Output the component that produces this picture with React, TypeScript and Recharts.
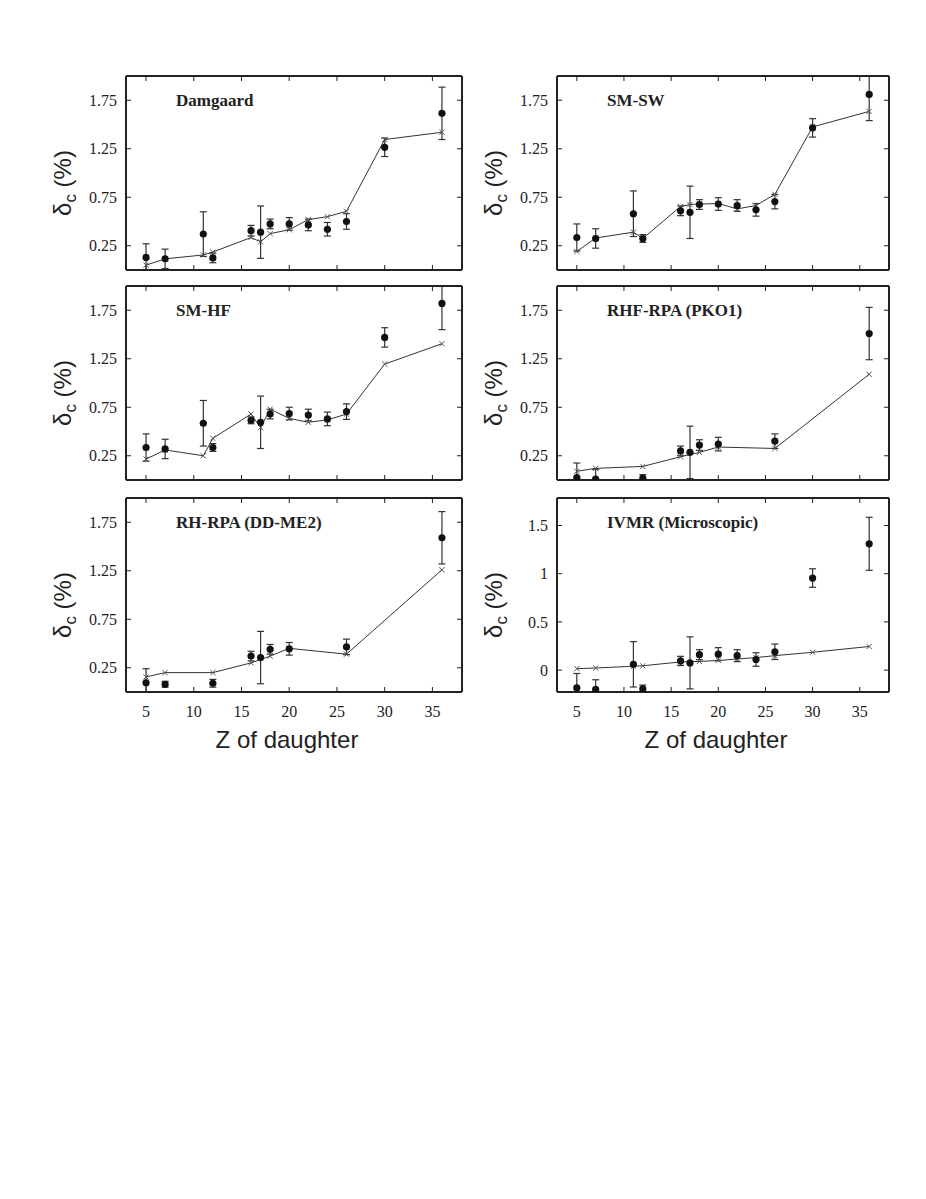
import React from "react";
import { ComposedChart, XAxis, YAxis, Line, Scatter, ErrorBar } from "recharts";

// Z of daughter nucleus
const zAll = [5, 7, 11, 12, 16, 17, 18, 20, 22, 24, 26, 30, 36];
const zSub = [5, 7, 12, 16, 17, 18, 20, 26, 36];
const zSubTheory = [5, 7, 12, 16, 18, 20, 26, 36];
const zIvmrTheory = [5, 7, 11, 12, 16, 18, 20, 22, 24, 26, 30, 36];

const xTicks = [5, 10, 15, 20, 25, 30, 35];
const yTicks = [0.25, 0.75, 1.25, 1.75];
const yTicksIvmr = [0, 0.5, 1, 1.5];

// Damgaard
const damgaardExp = [0.13, 0.115, 0.37, 0.125, 0.405, 0.39, 0.475, 0.475, 0.465, 0.42, 0.5, 1.265, 1.615];
const damgaardErr = [0.14, 0.1, 0.23, 0.05, 0.055, 0.27, 0.05, 0.065, 0.06, 0.07, 0.08, 0.095, 0.27];
const damgaardTheory = [0.05, 0.115, 0.155, 0.185, 0.335, 0.29, 0.375, 0.415, 0.52, 0.55, 0.605, 1.345, 1.42];

// SM-SW
const smswExp = [0.335, 0.325, 0.58, 0.325, 0.61, 0.595, 0.675, 0.68, 0.665, 0.62, 0.705, 1.465, 1.81];
const smswErr = [0.14, 0.1, 0.235, 0.04, 0.05, 0.27, 0.05, 0.065, 0.06, 0.065, 0.075, 0.095, 0.27];
const smswTheory = [0.19, 0.33, 0.39, 0.325, 0.655, 0.675, 0.68, 0.685, 0.63, 0.665, 0.78, 1.475, 1.635];

// SM-HF
const smhfExp = [0.335, 0.32, 0.585, 0.335, 0.615, 0.595, 0.68, 0.685, 0.67, 0.63, 0.705, 1.47, 1.82];
const smhfErr = [0.14, 0.1, 0.235, 0.04, 0.035, 0.27, 0.05, 0.065, 0.06, 0.07, 0.08, 0.1, 0.27];
const smhfTheory = [0.215, 0.31, 0.25, 0.43, 0.68, 0.54, 0.73, 0.635, 0.595, 0.62, 0.68, 1.195, 1.405];

// RHF-RPA (PKO1)
const pko1Exp = [0.025, 0.01, 0.02, 0.3, 0.285, 0.36, 0.37, 0.4, 1.51];
const pko1Err = [0.15, 0.1, 0.035, 0.05, 0.27, 0.055, 0.07, 0.075, 0.27];
const pko1Theory = [0.09, 0.12, 0.14, 0.24, 0.285, 0.34, 0.325, 1.09];

// RH-RPA (DD-ME2)
const ddme2Exp = [0.095, 0.08, 0.09, 0.37, 0.355, 0.44, 0.445, 0.465, 1.59];
const ddme2Err = [0.145, 0.03, 0.04, 0.05, 0.27, 0.05, 0.065, 0.08, 0.27];
const ddme2Theory = [0.155, 0.2, 0.2, 0.3, 0.37, 0.45, 0.39, 1.26];

// IVMR (Microscopic)
const ivmrExp = [-0.185, -0.2, 0.06, -0.195, 0.095, 0.075, 0.16, 0.165, 0.15, 0.11, 0.19, 0.955, 1.31];
const ivmrErr = [0.15, 0.1, 0.235, 0.04, 0.048, 0.27, 0.052, 0.068, 0.062, 0.07, 0.08, 0.096, 0.275];
const ivmrTheory = [0.015, 0.022, 0.04, 0.045, 0.085, 0.09, 0.1, 0.115, 0.13, 0.15, 0.185, 0.245];

const toExp = (z: number[], v: number[], e: number[]) => z.map((zz, i) => ({ z: zz, v: v[i], err: e[i] }));
const toLine = (z: number[], v: number[]) => z.map((zz, i) => ({ z: zz, v: v[i] }));

const BOX_H = 194;
const COL_LEFT = [126, 557];
const COL_RIGHT = [462, 889];
const CHART_LEFT = [40, 470];
const ROW_TOP = [76, 286, 498];
const X_DOMAIN: [number, number] = [2.9, 38.1];

const frame = { stroke: "#222", strokeWidth: 2 };
const tickLn = { stroke: "#222", strokeWidth: 1 };
const tickTxt = { fill: "#222", fontSize: 16, fontFamily: "Liberation Serif" };
const blank = () => "";

function Cross(props: any) {
  const { cx, cy, index } = props;
  if (cx == null || cy == null) return <g key={`c${index}`} />;
  const s = 2.6;
  return (
    <path
      key={`c${index}`}
      d={`M${cx - s},${cy - s}L${cx + s},${cy + s}M${cx - s},${cy + s}L${cx + s},${cy - s}`}
      stroke="#555"
      strokeWidth={1}
      fill="none"
    />
  );
}

function Dot(props: any) {
  const { cx, cy } = props;
  return <circle cx={cx} cy={cy} r={3.6} fill="#111" />;
}

interface PanelProps {
  title: string;
  col: number;
  row: number;
  exp: { z: number; v: number; err: number }[];
  theory: { z: number; v: number }[];
  domain: [number, number];
  ticks: number[];
  fmt: (v: number) => string;
}

function Panel({ title, col, row, exp, theory, domain, ticks, fmt }: PanelProps) {
  const chartLeft = CHART_LEFT[col];
  const chartW = 440;
  const boxL = COL_LEFT[col];
  const boxR = COL_RIGHT[col];
  const top = ROW_TOP[row];
  const showX = row === 2;
  const bottomH = showX ? 40 : 1;
  const chartH = 10 + BOX_H + bottomH + 2;
  const clipId = `plotclip-${col}-${row}`;

  return (
    <>
      <svg width={1} height={1} style={{ position: "absolute", left: 0, top: 0 }}>
        <defs>
          <clipPath id={clipId} clipPathUnits="userSpaceOnUse">
            <rect x={boxL - chartLeft} y={10} width={boxR - boxL} height={BOX_H} />
          </clipPath>
        </defs>
      </svg>
      <style>{`.${clipId}-wrap .recharts-errorBar, .${clipId}-wrap .recharts-scatter-symbol { clip-path: url(#${clipId}); }`}</style>
      <div className={`${clipId}-wrap`} style={{ position: "absolute", left: chartLeft, top: top - 10 }}>
        <ComposedChart
          width={chartW}
          height={chartH}
          margin={{ top: 9, right: chartLeft + chartW - boxR - 1, bottom: 2, left: 0 }}
        >
          <XAxis
            xAxisId="b"
            dataKey="z"
            type="number"
            domain={X_DOMAIN}
            allowDataOverflow
            ticks={xTicks}
            interval={0}
            height={bottomH}
            axisLine={frame}
            tickLine={tickLn}
            tick={tickTxt}
            tickSize={-5}
            tickMargin={19}
            tickFormatter={showX ? undefined : blank}
          />
          <XAxis
            xAxisId="t"
            orientation="top"
            dataKey="z"
            type="number"
            domain={X_DOMAIN}
            allowDataOverflow
            ticks={xTicks}
            interval={0}
            height={1}
            axisLine={frame}
            tickLine={tickLn}
            tick={tickTxt}
            tickSize={-5}
            tickFormatter={blank}
          />
          <YAxis
            yAxisId="l"
            dataKey="v"
            type="number"
            domain={domain}
            allowDataOverflow
            ticks={ticks}
            interval={0}
            width={boxL - chartLeft}
            axisLine={frame}
            tickLine={tickLn}
            tick={tickTxt}
            tickSize={-5}
            tickMargin={14}
            tickFormatter={fmt}
          />
          <YAxis
            yAxisId="r"
            orientation="right"
            type="number"
            domain={domain}
            allowDataOverflow
            ticks={ticks}
            interval={0}
            width={1}
            axisLine={frame}
            tickLine={tickLn}
            tick={tickTxt}
            tickSize={-5}
            tickFormatter={blank}
          />
          <Line
            xAxisId="b"
            yAxisId="l"
            data={theory}
            dataKey="v"
            type="linear"
            stroke="#333"
            strokeWidth={1}
            dot={Cross}
            activeDot={false}
            isAnimationActive={false}
          />
          <Scatter xAxisId="b" yAxisId="l" data={exp} dataKey="v" shape={Dot} isAnimationActive={false}>
            <ErrorBar dataKey="err" direction="y" width={3.5} stroke="#333" strokeWidth={1.2} isAnimationActive={false} />
          </Scatter>
        </ComposedChart>
      </div>
      <div
        style={{
          position: "absolute",
          left: boxL + 50,
          top: top + 16,
          fontFamily: "Liberation Serif",
          fontWeight: "bold",
          fontSize: 17,
          lineHeight: 1,
          color: "#222",
          whiteSpace: "nowrap",
        }}
      >
        {title}
      </div>
      <div
        style={{
          position: "absolute",
          left: boxL - 61,
          top: top + BOX_H / 2 + 10,
          transform: "translate(-50%, -50%) rotate(-90deg)",
          fontFamily: "Liberation Sans",
          fontSize: 24,
          lineHeight: 1,
          color: "#222",
          whiteSpace: "nowrap",
        }}
      >
        δ<sub style={{ fontSize: 17 }}>c</sub> (%)
      </div>
      {showX && (
        <div
          style={{
            position: "absolute",
            left: (boxL + boxR) / 2 - 7,
            top: 740,
            transform: "translate(-50%, -50%)",
            fontFamily: "Liberation Sans",
            fontSize: 24,
            lineHeight: 1,
            color: "#222",
            whiteSpace: "nowrap",
          }}
        >
          Z of daughter
        </div>
      )}
    </>
  );
}

const fmt2 = (v: number) => v.toFixed(2);
const fmtPlain = (v: number) => String(v);

export default function App() {
  return (
    <div style={{ position: "absolute", left: 0, top: 0, width: 926, height: 1199, background: "#fff" }}>
      <Panel title="Damgaard" col={0} row={0} exp={toExp(zAll, damgaardExp, damgaardErr)} theory={toLine(zAll, damgaardTheory)} domain={[0, 2]} ticks={yTicks} fmt={fmt2} />
      <Panel title="SM-SW" col={1} row={0} exp={toExp(zAll, smswExp, smswErr)} theory={toLine(zAll, smswTheory)} domain={[0, 2]} ticks={yTicks} fmt={fmt2} />
      <Panel title="SM-HF" col={0} row={1} exp={toExp(zAll, smhfExp, smhfErr)} theory={toLine(zAll, smhfTheory)} domain={[0, 2]} ticks={yTicks} fmt={fmt2} />
      <Panel title="RHF-RPA (PKO1)" col={1} row={1} exp={toExp(zSub, pko1Exp, pko1Err)} theory={toLine(zSubTheory, pko1Theory)} domain={[0, 2]} ticks={yTicks} fmt={fmt2} />
      <Panel title="RH-RPA (DD-ME2)" col={0} row={2} exp={toExp(zSub, ddme2Exp, ddme2Err)} theory={toLine(zSubTheory, ddme2Theory)} domain={[0, 2]} ticks={yTicks} fmt={fmt2} />
      <Panel title="IVMR (Microscopic)" col={1} row={2} exp={toExp(zAll, ivmrExp, ivmrErr)} theory={toLine(zIvmrTheory, ivmrTheory)} domain={[-0.227, 1.785]} ticks={yTicksIvmr} fmt={fmtPlain} />
    </div>
  );
}
